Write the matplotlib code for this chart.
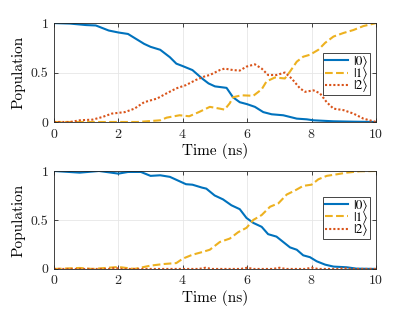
import matplotlib
matplotlib.use("Agg")
import matplotlib.pyplot as plt

plt.rcParams['font.family'] = 'cmr10'
plt.rcParams['mathtext.fontset'] = 'cm'
plt.rcParams['axes.formatter.use_mathtext'] = True

# Верхний график: населённости уровней
t0_top = [0, 0.5, 1, 1.3, 1.7, 2, 2.3, 2.6, 2.8, 3, 3.3, 3.6, 3.8, 4, 4.3, 4.6, 4.8, 5.0,
          5.36, 5.56, 5.77, 6, 6.24, 6.5, 6.76, 7.12, 7.54, 7.85, 8.06, 8.68, 9.3, 10]
p0_top = [1, 0.995, 0.98, 0.976, 0.925, 0.905, 0.89, 0.83, 0.79, 0.76, 0.73, 0.655, 0.59, 0.565,
          0.525, 0.44, 0.39, 0.36, 0.345, 0.25, 0.2, 0.18, 0.153, 0.10, 0.078, 0.068, 0.034,
          0.027, 0.017, 0.007, 0.003, 0]

t1_top = [0, 2.6, 3.3, 3.5, 3.9, 4.2, 4.5, 4.84, 5.15, 5.3, 5.46, 5.56, 5.82, 6.19, 6.45, 6.6,
          6.86, 7.17, 7.33, 7.54, 7.74, 7.95, 8.21, 8.42, 8.68, 8.99, 9.3, 9.61, 10]
p1_top = [0, 0.0, 0.017, 0.044, 0.068, 0.058, 0.10, 0.153, 0.135, 0.125, 0.19, 0.25, 0.27,
          0.265, 0.33, 0.41, 0.45, 0.44, 0.51, 0.61, 0.66, 0.68, 0.73, 0.80, 0.864, 0.90,
          0.93, 0.97, 1.0]

t2_top = [0, 0.5, 0.8, 1.2, 1.5, 1.8, 2.2, 2.5, 2.8, 3.2, 3.5, 3.8, 4.1, 4.4, 4.7, 4.84, 5.15,
          5.3, 5.56, 5.77, 5.98, 6.24, 6.45, 6.65, 6.91, 7.17, 7.38, 7.64, 7.8, 8.06, 8.26,
          8.47, 8.68, 8.99, 9.3, 9.61, 10]
p2_top = [0, 0.0, 0.017, 0.024, 0.05, 0.085, 0.10, 0.135, 0.20, 0.237, 0.29, 0.34, 0.373, 0.424,
          0.464, 0.475, 0.525, 0.54, 0.525, 0.52, 0.56, 0.583, 0.54, 0.475, 0.475, 0.50, 0.44,
          0.34, 0.305, 0.32, 0.29, 0.20, 0.135, 0.12, 0.085, 0.034, 0]

# Нижний график
t0_bot = [0, 0.8, 1.4, 2, 2.3, 2.7, 3, 3.3, 3.6, 3.9, 4.1, 4.3, 4.6, 4.73, 4.99, 5.25, 5.51,
          5.77, 5.98, 6.19, 6.45, 6.65, 6.91, 7.12, 7.33, 7.54, 7.74, 7.95, 8.16, 8.42, 8.68,
          9.09, 9.4, 10]
p0_bot = [1, 0.983, 1.0, 0.973, 0.99, 0.99, 0.95, 0.956, 0.94, 0.895, 0.865, 0.86, 0.83, 0.82,
          0.75, 0.71, 0.65, 0.61, 0.52, 0.47, 0.43, 0.355, 0.33, 0.275, 0.22, 0.196, 0.139,
          0.12, 0.078, 0.044, 0.024, 0.017, 0.003, 0]

t1_bot = [0, 0.8, 1.2, 2, 2.5, 3, 3.4, 3.8, 4.0, 4.3, 4.6, 4.84, 5.15, 5.46, 5.72, 5.98, 6.19,
          6.45, 6.71, 6.97, 7.23, 7.48, 7.74, 8.0, 8.21, 8.47, 8.78, 9.09, 9.5, 10]
p1_bot = [0, 0.01, 0, 0.02, 0, 0.034, 0.05, 0.06, 0.105, 0.145, 0.172, 0.196, 0.275, 0.31,
          0.375, 0.42, 0.50, 0.55, 0.635, 0.67, 0.76, 0.80, 0.848, 0.86, 0.915, 0.95, 0.966,
          0.983, 0.997, 1.0]

t2_bot = [0, 1.7, 1.9, 2.1, 4.5, 4.7, 4.9, 5.8, 6.0, 6.2, 6.8, 7.0, 7.2, 7.8, 8.0, 8.2, 8.8,
          9.0, 9.2, 10]
p2_bot = [0, 0, 0.01, 0, 0, 0.012, 0, 0, 0.012, 0, 0, 0.012, 0, 0, 0.012, 0, 0, 0.008, 0, 0]

labels = ['|0\u27e9', '|1\u27e9', '|2\u27e9']
colors = ['#0072BD', '#EDB120', '#D95319']
styles = ['-', '--', (0, (1, 1))]

fig = plt.figure(figsize=(4.15, 3.12), dpi=100)
ax1 = fig.add_axes([0.130, 0.609, 0.776, 0.317])
ax2 = fig.add_axes([0.130, 0.138, 0.776, 0.314])

panels = [
    (ax1, [(t0_top, p0_top), (t1_top, p1_top), (t2_top, p2_top)], 0.697),
    (ax2, [(t0_bot, p0_bot), (t1_bot, p1_bot), (t2_bot, p2_bot)], 0.735),
]

for ax, series, leg_top in panels:
    for (t, p), lab, c, ls in zip(series, labels, colors, styles):
        ax.plot(t, p, color=c, linestyle=ls, linewidth=1.5, label=lab)
    ax.set_xlim(0, 10)
    ax.set_ylim(0, 1)
    ax.set_xticks([0, 2, 4, 6, 8, 10])
    ax.set_yticks([0, 0.5, 1])
    ax.set_yticklabels(['0', '0.5', '1'])
    ax.grid(True, color='#e6e6e6', linewidth=0.6)
    ax.set_axisbelow(True)
    ax.tick_params(direction='in', top=True, right=True, length=3, width=0.6,
                   labelsize=10, colors='#262626', pad=4)
    for s in ax.spines.values():
        s.set_color('#262626')
        s.set_linewidth(0.6)
    ax.set_xlabel('Time (ns)', fontsize=11, labelpad=2)
    ax.set_ylabel('Population', fontsize=11, labelpad=4)
    leg = ax.legend(loc='upper right', bbox_to_anchor=(0.982, leg_top),
                    prop={'family': 'STIXGeneral', 'size': 9.5},
                    handlelength=1.75, fancybox=False, framealpha=1, borderpad=0.2,
                    labelspacing=0.0, handletextpad=0.35, borderaxespad=0)
    leg.get_frame().set_edgecolor('#262626')
    leg.get_frame().set_linewidth(0.6)

fig.savefig('out.png', dpi=100)
